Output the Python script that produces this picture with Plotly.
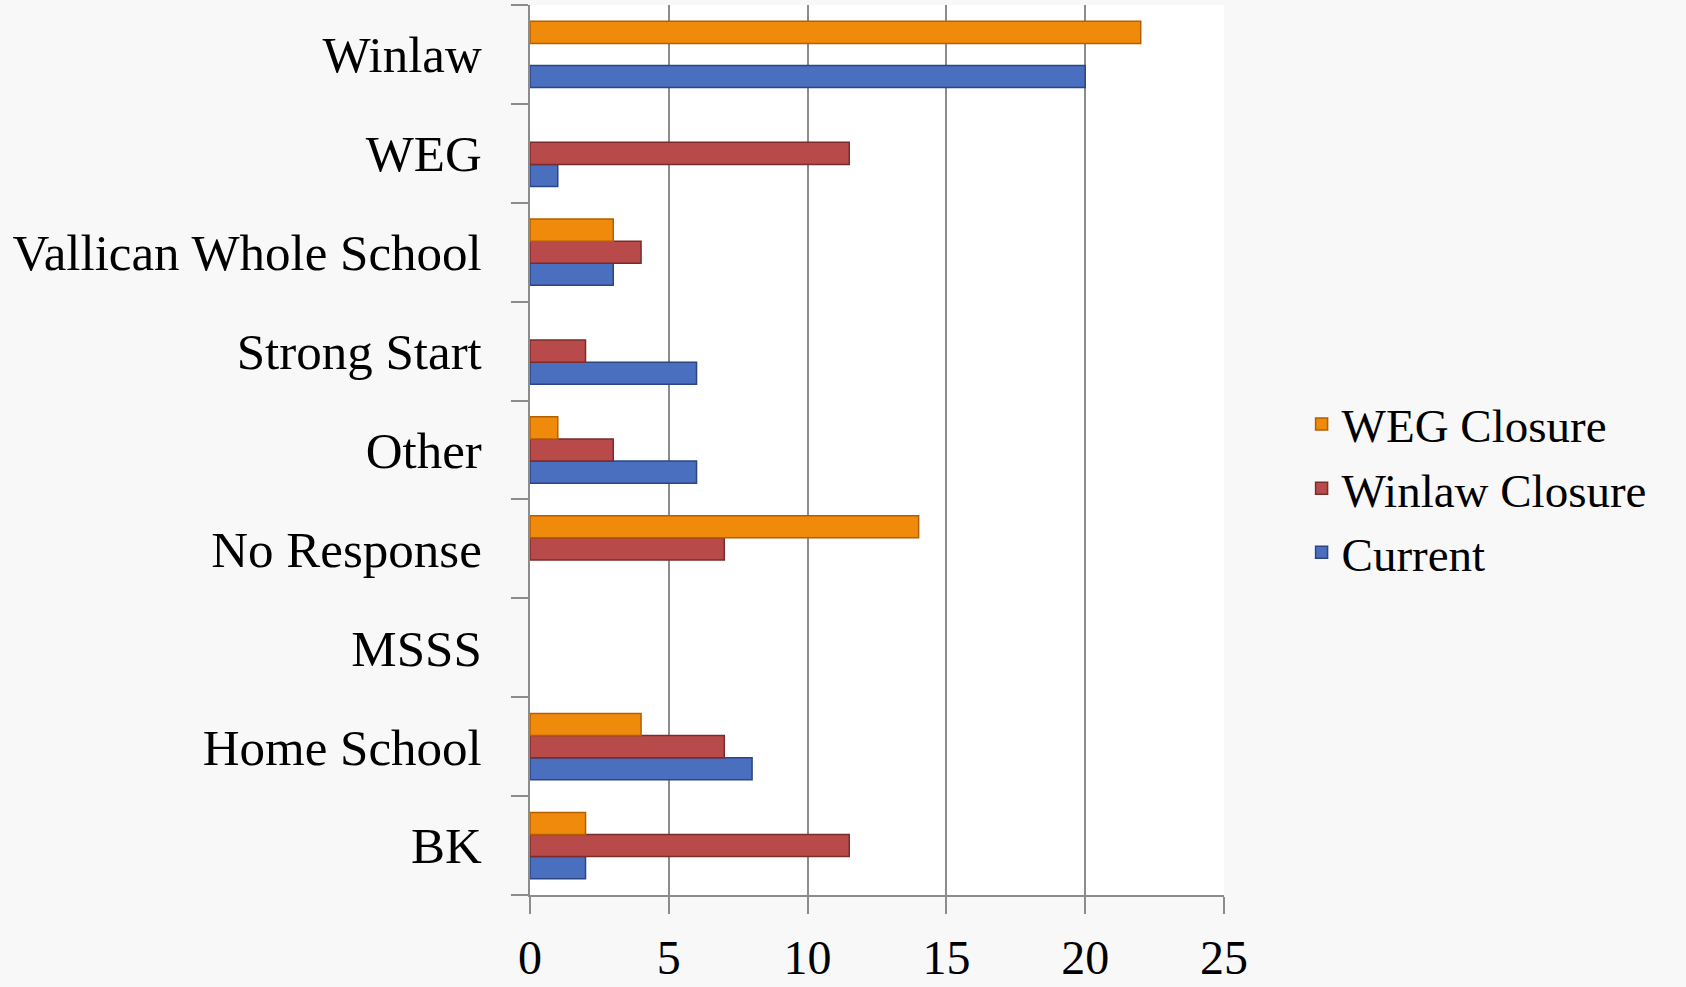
import plotly.graph_objects as go

# Categories listed top-to-bottom as in the reference
categories = ["Winlaw", "WEG", "Vallican Whole School", "Strong Start", "Other",
              "No Response", "MSSS", "Home School", "BK"]
weg_closure = [22, 0, 3, 0, 1, 14, 0, 4, 2]
winlaw_closure = [0, 11.5, 4, 2, 3, 7, 0, 7, 11.5]
current = [20, 1, 3, 6, 6, 0, 0, 8, 2]
x_ticks = [0, 5, 10, 15, 20, 25]

FONT = "Liberation Serif"

fig = go.Figure()
series = [
    ("Current", current, "#4A6FBF", "#2B4586"),
    ("Winlaw Closure", winlaw_closure, "#B94A4A", "#7A2C2C"),
    ("WEG Closure", weg_closure, "#F08A0A", "#B45F00"),
]
for name, vals, col, edge in series:
    shown = [v if v != 0 else None for v in vals]
    fig.add_trace(go.Bar(
        y=categories, x=shown, name=name, orientation="h",
        marker=dict(color=col, line=dict(color=edge, width=1.5)),
        legendgroup=name,
    ))

fig.update_layout(
    width=1686, height=987,
    barmode="group", bargap=0.33, bargroupgap=0,
    paper_bgcolor="#f8f8f8", plot_bgcolor="#ffffff",
    margin=dict(l=530, r=462, t=5, b=92, autoexpand=False),
    font=dict(family=FONT, color="#000000", size=48),
    legend=dict(
        xref="container", yref="container", x=0.772, y=0.505,
        xanchor="left", yanchor="middle",
        traceorder="reversed", tracegroupgap=53,
        font=dict(family=FONT, size=47, color="#000000"),
        bgcolor="rgba(0,0,0,0)", itemwidth=30,
    ),
    xaxis=dict(
        range=[0, 25], tickvals=x_ticks, ticktext=[str(v) for v in x_ticks],
        showgrid=True, gridcolor="#8c8c8c", gridwidth=2,
        showline=True, linecolor="#8c8c8c", linewidth=2,
        ticks="outside", ticklen=17, tickcolor="#8c8c8c", tickwidth=2,
        tickfont=dict(family=FONT, size=48), ticklabelstandoff=2,
        zeroline=False, fixedrange=True, automargin=False,
    ),
    yaxis=dict(
        categoryorder="array", categoryarray=categories[::-1],
        tickson="boundaries", ticks="outside", ticklen=17,
        tickcolor="#8c8c8c", tickwidth=2,
        showline=True, linecolor="#8c8c8c", linewidth=2,
        showgrid=False, tickfont=dict(family=FONT, size=51),
        ticklabelstandoff=36, fixedrange=True, automargin=False,
    ),
)

fig.write_html("out.html", config={"displayModeBar": False},
               post_script="document.body.style.margin='0';document.body.style.overflow='hidden';")
